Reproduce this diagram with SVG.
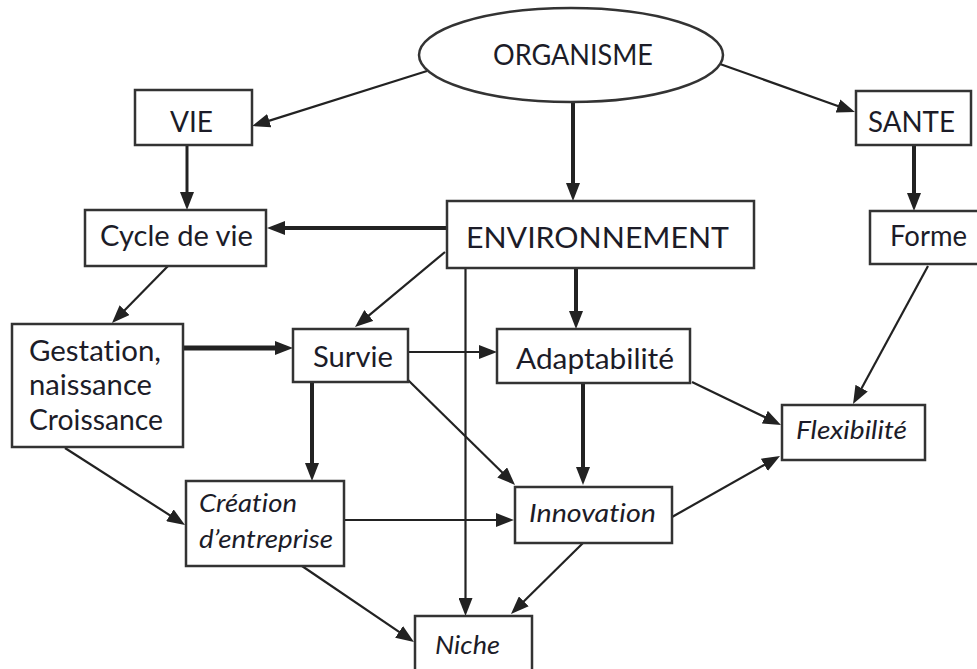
<svg xmlns="http://www.w3.org/2000/svg" width="977" height="669" viewBox="0 0 977 669">
<style>
.box{fill:#fff;stroke:#333;stroke-width:2.5}
.t{font-family:Lato,"Open Sans","Liberation Sans",sans-serif;font-size:28px;fill:#1c1c28;font-variant-ligatures:none}
.i{font-style:italic;font-size:26px}
.c{stroke:#222;fill:none;stroke-width:2.2;marker-end:url(#ah)}
.k{stroke-width:4}
</style>
<defs>
<marker id="ah" viewBox="0 0 18 14" refX="8" refY="7" markerWidth="18" markerHeight="14" markerUnits="userSpaceOnUse" orient="auto">
<path d="M0,0 L18,7 L0,14 z" fill="#222"/>
</marker>
</defs>
<rect width="977" height="669" fill="#fff"/>
<g id="connectors">
<line class="c" x1="427" y1="71" x2="261.6" y2="123.1"/>
<line class="c k" x1="573" y1="102" x2="573" y2="191"/>
<line class="c" x1="720" y1="64" x2="845.5" y2="108.7"/>
<line class="c" style="stroke-width:3" x1="187" y1="145" x2="187" y2="200"/>
<line class="c k" x1="914" y1="145" x2="914" y2="201"/>
<line class="c k" x1="447" y1="228" x2="277" y2="228"/>
<line class="c" x1="168" y1="266" x2="119" y2="315.9"/>
<line class="c" x1="445" y1="252" x2="362.7" y2="320.6"/>
<line class="c" x1="465.5" y1="268" x2="465.5" y2="606"/>
<line class="c k" x1="576" y1="268" x2="576" y2="319"/>
<line class="c" style="stroke-width:5" x1="183" y1="348" x2="283" y2="348"/>
<line class="c" x1="408" y1="352" x2="487" y2="352"/>
<line class="c k" x1="312" y1="382" x2="312" y2="471"/>
<line class="c" x1="408" y1="380" x2="507.9" y2="478"/>
<line class="c" x1="65" y1="448" x2="176.6" y2="519.6"/>
<line class="c" x1="344" y1="520" x2="504" y2="520"/>
<line class="c" x1="302" y1="566" x2="405.7" y2="636.4"/>
<line class="c k" x1="583" y1="383" x2="583" y2="475"/>
<line class="c" x1="692" y1="382" x2="772" y2="420.6"/>
<line class="c" x1="928" y1="266" x2="857.8" y2="395.2"/>
<line class="c" x1="672" y1="517" x2="771.3" y2="460.9"/>
<line class="c" x1="583" y1="543" x2="518.1" y2="607"/>
</g>
<g id="organisme">
<ellipse cx="571" cy="55" rx="152" ry="47" fill="#fff" stroke="#333" stroke-width="2.5"/>
<text class="t" x="493" y="65" textLength="160" lengthAdjust="spacingAndGlyphs">ORGANISME</text>
</g>
<g id="vie">
<rect class="box" x="135" y="90" width="117" height="55"/>
<text class="t" x="170" y="132" textLength="43" lengthAdjust="spacingAndGlyphs">VIE</text>
</g>
<g id="sante">
<rect class="box" x="856" y="91" width="115" height="54"/>
<text class="t" x="868" y="132" textLength="87" lengthAdjust="spacingAndGlyphs">SANTE</text>
</g>
<g id="cycle">
<rect class="box" x="85" y="210" width="181" height="56"/>
<text class="t" x="100" y="246" textLength="153" lengthAdjust="spacingAndGlyphs">Cycle de vie</text>
</g>
<g id="environnement">
<rect class="box" x="447" y="201" width="307" height="67"/>
<text class="t" x="466" y="248" textLength="263" lengthAdjust="spacingAndGlyphs">ENVIRONNEMENT</text>
</g>
<g id="forme">
<rect class="box" x="870" y="211" width="120" height="53"/>
<text class="t" x="890" y="246" textLength="77" lengthAdjust="spacingAndGlyphs">Forme</text>
</g>
<g id="gestation">
<rect class="box" x="12" y="324" width="171" height="123"/>
<text class="t" x="29" y="361" textLength="132" lengthAdjust="spacingAndGlyphs">Gestation,</text>
<text class="t" x="29" y="395" textLength="123" lengthAdjust="spacingAndGlyphs">naissance</text>
<text class="t" x="29" y="430" textLength="134" lengthAdjust="spacingAndGlyphs">Croissance</text>
</g>
<g id="survie">
<rect class="box" x="293" y="329" width="115" height="53"/>
<text class="t" x="313" y="367" textLength="80" lengthAdjust="spacingAndGlyphs">Survie</text>
</g>
<g id="adaptabilite">
<rect class="box" x="497" y="329" width="193" height="54"/>
<text class="t" x="516" y="369" textLength="158" lengthAdjust="spacingAndGlyphs">Adaptabilité</text>
</g>
<g id="creation">
<rect class="box" x="186" y="481" width="158" height="85"/>
<text class="t i" x="199" y="512" textLength="98" lengthAdjust="spacingAndGlyphs">Création</text>
<text class="t i" x="199" y="548" textLength="134" lengthAdjust="spacingAndGlyphs">d’entreprise</text>
</g>
<g id="innovation">
<rect class="box" x="515" y="487" width="157" height="56"/>
<text class="t i" x="529" y="522" textLength="127" lengthAdjust="spacingAndGlyphs">Innovation</text>
</g>
<g id="flexibilite">
<rect class="box" x="782" y="405" width="143" height="55"/>
<text class="t i" x="796" y="439" textLength="111" lengthAdjust="spacingAndGlyphs">Flexibilité</text>
</g>
<g id="niche">
<rect class="box" x="415" y="616" width="117" height="70"/>
<text class="t i" x="435" y="654" textLength="65" lengthAdjust="spacingAndGlyphs">Niche</text>
</g>
</svg>
